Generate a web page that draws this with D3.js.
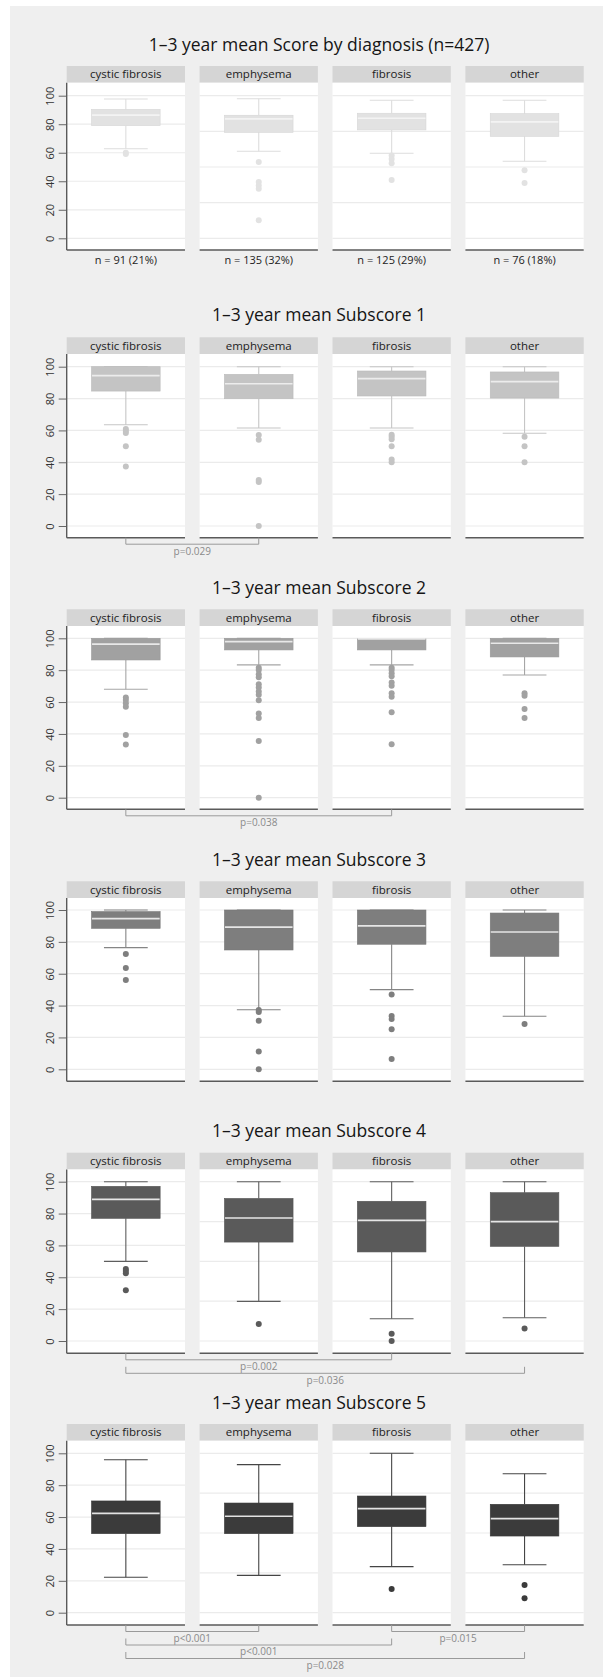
<!DOCTYPE html>
<html>
<head>
<meta charset="utf-8">
<script src="https://cdn.jsdelivr.net/npm/d3@7"></script>
<style>
  body { margin: 0; background: #ffffff; }
  text { font-family: "Open Sans", "Noto Sans", sans-serif; }
</style>
</head>
<body>
<svg id="chart" width="603" height="1680"></svg>
<script>
// Diagnosis groups shown as facets in every row
const categories = ["cystic fibrosis", "emphysema", "fibrosis", "other"];
const groupCounts = ["n = 91 (21%)", "n = 135 (32%)", "n = 125 (29%)", "n = 76 (18%)"];

const titles = [
  "1\u20133 year mean Score by diagnosis (n=427)",
  "1\u20133 year mean Subscore 1",
  "1\u20133 year mean Subscore 2",
  "1\u20133 year mean Subscore 3",
  "1\u20133 year mean Subscore 4",
  "1\u20133 year mean Subscore 5"
];

const yTicks = [0, 20, 40, 60, 80, 100];

// Box summaries per group: [lower whisker, Q1, median, Q3, upper whisker]
const scoreBoxes = [[62.8, 79.0, 86.4, 90.4, 97.7], [61.0, 74.3, 83.7, 86.3, 97.9], [59.6, 76.0, 84.2, 87.7, 96.8], [54.0, 71.5, 81.6, 87.4, 96.8]];
const sub1Boxes  = [[63.6, 84.7, 94.4, 100, 100], [61.5, 79.9, 89.3, 95.2, 100], [61.5, 81.6, 92.5, 97.3, 100], [58.2, 80.3, 90.6, 96.7, 100]];
const sub2Boxes  = [[68.0, 86.4, 96.4, 100, 100], [83.3, 92.7, 97.9, 100, 100], [83.3, 92.7, 99.6, 99.6, 99.6], [77.0, 88.3, 96.9, 100, 100]];
const sub3Boxes  = [[76.4, 88.5, 94.6, 99.0, 100], [37.4, 74.9, 89.3, 100, 100], [50.0, 78.5, 90.0, 100, 100], [33.3, 70.9, 86.2, 98.1, 100]];
const sub4Boxes  = [[50.0, 77.0, 88.9, 97.1, 100], [24.9, 62.1, 77.2, 89.5, 100], [14.0, 55.9, 75.7, 87.7, 100], [14.6, 59.4, 74.9, 93.1, 100]];
const sub5Boxes  = [[22.2, 49.6, 62.3, 70.1, 96.0], [23.4, 49.6, 60.5, 68.8, 92.9], [28.9, 54.0, 65.3, 73.2, 100], [30.1, 48.1, 59.0, 68.0, 87.2]];

// Outlying observations per group
const scoreOutliers = [[60, 59.2], [53.5, 39.5, 37, 34.8, 12.6], [58, 55.6, 52.6, 40.9], [47.7, 38.8]];
const sub1Outliers  = [[60.9, 59.6, 58.4, 50, 37.4], [57.1, 54.2, 28.9, 27.6, 0], [57.3, 56.1, 54.4, 50, 41.8, 40], [56.1, 50, 40]];
const sub2Outliers  = [[62.8, 61.3, 59.2, 57.1, 39.3, 33.3], [81.6, 80.1, 77.4, 75.5, 71.1, 69.2, 66.7, 64.6, 61.1, 52.9, 50, 35.6, 0], [81.6, 80.1, 78, 76.2, 72.2, 70.3, 65.5, 63.4, 53.6, 33.5], [65.5, 64, 55.6, 50]];
const sub3Outliers  = [[72.4, 63.6, 56.1], [37.2, 36, 30.5, 11.1, 0], [46.9, 33.5, 31.6, 25.1, 6.5], [28.5]];
const sub4Outliers  = [[45.2, 43.9, 42.5, 31.8], [10.7], [4.6, 0], [7.9]];
const sub5Outliers  = [[], [], [14.9], [17.4, 9]];

// Pairwise comparisons: [group a, group b, bracket level, label]
const sub1Tests = [[0, 1, 0, "p=0.029"]];
const sub2Tests = [[0, 2, 0, "p=0.038"]];
const sub4Tests = [[0, 2, 0, "p=0.002"], [0, 3, 1, "p=0.036"]];
const sub5Tests = [[0, 1, 0, "p<0.001"], [2, 3, 0, "p=0.015"], [0, 2, 1, "p<0.001"], [0, 3, 2, "p=0.028"]];

const boxSets = [scoreBoxes, sub1Boxes, sub2Boxes, sub3Boxes, sub4Boxes, sub5Boxes];
const outlierSets = [scoreOutliers, sub1Outliers, sub2Outliers, sub3Outliers, sub4Outliers, sub5Outliers];
const testSets = [[], sub1Tests, sub2Tests, [], sub4Tests, sub5Tests];
// Grid step used in the 2nd-4th facets of each row
const facetGridSteps = [25, 20, 20, 20, 25, 25];

// Row geometry
const rows = [
  { title: 45,     strip: 66,     y100: 95.7,   y0: 238.3,  base: 250 },
  { title: 315,    strip: 337.3,  y100: 366.7,  y0: 526,    base: 537.7 },
  { title: 587.3,  strip: 609.3,  y100: 638.3,  y0: 797.7,  base: 809.3 },
  { title: 859.3,  strip: 881.3,  y100: 910,    y0: 1069.3, base: 1081.3 },
  { title: 1130.7, strip: 1152.7, y100: 1181.7, y0: 1341,   base: 1353.3 },
  { title: 1402.7, strip: 1424,   y100: 1453.3, y0: 1612.7, base: 1625 }
];
const stripH = 16.7;
const boxFill  = ["#e2e2e2", "#c4c4c4", "#a1a1a1", "#7e7e7e", "#5a5a5a", "#3b3b3b"];
const lineCol  = ["#dddddd", "#c6c6c6", "#a6a6a6", "#858585", "#5e5e5e", "#454545"];
const medianCol = ["#f3f3f3", "#ececec", "#e8e8e8", "#e6e6e6", "#e6e6e6", "#e2e2e2"];

const svg = d3.select("#chart");
svg.append("rect").attr("x", 10).attr("y", 6).attr("width", 593).attr("height", 1671).attr("fill", "#efefef");

const fx = d3.scaleBand().domain(categories).range([66.7, 583.7]).paddingInner(0.11).paddingOuter(0);
const bw = fx.bandwidth();
const boxW = bw * 0.58;
const capW = bw * 0.37;

rows.forEach((r, ri) => {
  const g = svg.append("g");
  const y = d3.scaleLinear().domain([0, 100]).range([r.y0, r.y100]);
  const plotTop = r.strip + stripH;

  g.append("text")
    .attr("x", 319).attr("y", r.title)
    .attr("dy", "0.36em")
    .attr("text-anchor", "middle")
    .attr("font-size", 17.5)
    .attr("fill", "#151515")
    .text(titles[ri]);

  categories.forEach((cat, ci) => {
    const x0 = fx(cat);
    const cx = x0 + bw / 2;
    const fg = g.append("g");

    fg.append("rect").attr("x", x0).attr("y", r.strip).attr("width", bw).attr("height", stripH).attr("fill", "#d5d5d5");
    fg.append("text")
      .attr("x", cx).attr("y", r.strip + stripH / 2)
      .attr("dy", "0.35em").attr("text-anchor", "middle")
      .attr("font-size", 11.5).attr("fill", "#222")
      .text(cat);

    fg.append("rect").attr("x", x0).attr("y", plotTop).attr("width", bw).attr("height", r.base - plotTop).attr("fill", "#ffffff");

    const step = ci === 0 ? 20 : facetGridSteps[ri];
    const grid = d3.range(0, 100 + 0.01, step);
    fg.selectAll("line.grid").data(grid).join("line")
      .attr("class", "grid")
      .attr("x1", x0).attr("x2", x0 + bw)
      .attr("y1", d => y(d)).attr("y2", d => y(d))
      .attr("stroke", "#ebebeb").attr("stroke-width", 1.2);

    const [lo, q1, med, q3, hi] = boxSets[ri][ci];
    const col = lineCol[ri];
    fg.append("line").attr("x1", cx).attr("x2", cx).attr("y1", y(hi)).attr("y2", y(q3)).attr("stroke", col).attr("stroke-width", 1.1);
    fg.append("line").attr("x1", cx).attr("x2", cx).attr("y1", y(q1)).attr("y2", y(lo)).attr("stroke", col).attr("stroke-width", 1.1);
    fg.append("line").attr("x1", cx - capW / 2).attr("x2", cx + capW / 2).attr("y1", y(hi)).attr("y2", y(hi)).attr("stroke", col).attr("stroke-width", 1.1);
    fg.append("line").attr("x1", cx - capW / 2).attr("x2", cx + capW / 2).attr("y1", y(lo)).attr("y2", y(lo)).attr("stroke", col).attr("stroke-width", 1.1);

    fg.append("rect")
      .attr("x", cx - boxW / 2).attr("y", y(q3))
      .attr("width", boxW).attr("height", Math.max(0.5, y(q1) - y(q3)))
      .attr("fill", boxFill[ri])
      .attr("stroke", d3.color(boxFill[ri]).darker(0.15)).attr("stroke-width", 0.6);
    fg.append("line")
      .attr("x1", cx - boxW / 2 + 0.5).attr("x2", cx + boxW / 2 - 0.5)
      .attr("y1", y(med)).attr("y2", y(med))
      .attr("stroke", medianCol[ri]).attr("stroke-width", 1.7);

    fg.selectAll("circle").data(outlierSets[ri][ci]).join("circle")
      .attr("cx", cx).attr("cy", d => y(d)).attr("r", 3)
      .attr("fill", boxFill[ri]);

    fg.append("line").attr("x1", x0).attr("x2", x0 + bw).attr("y1", r.base).attr("y2", r.base)
      .attr("stroke", "#5a5a5a").attr("stroke-width", 1.4);

    if (ri === 0) {
      fg.append("text")
        .attr("x", cx).attr("y", r.base + 10)
        .attr("dy", "0.35em").attr("text-anchor", "middle")
        .attr("font-size", 11).attr("fill", "#222")
        .text(groupCounts[ci]);
    }
  });

  // y axis on the first facet
  const axisX = fx(categories[0]);
  const ax = g.append("g").attr("transform", `translate(${axisX},0)`)
    .call(d3.axisLeft(y).tickValues(yTicks).tickSize(8).tickPadding(4).tickFormat(d3.format("d")));
  ax.select(".domain").remove();
  ax.selectAll(".tick line").attr("stroke", "#666");
  ax.selectAll(".tick text")
    .attr("transform", "rotate(-90)")
    .attr("x", 0).attr("y", -12.5).attr("dy", 0)
    .attr("text-anchor", "middle")
    .attr("font-size", 11).attr("fill", "#333")
    .style("font-family", "'Open Sans', sans-serif");
  g.append("line").attr("x1", axisX).attr("x2", axisX).attr("y1", plotTop).attr("y2", r.base)
    .attr("stroke", "#5a5a5a").attr("stroke-width", 1.4);

  // significance brackets below the facets
  testSets[ri].forEach(([a, b, lvl, lab]) => {
    const xa = fx(categories[a]) + bw / 2;
    const xb = fx(categories[b]) + bw / 2;
    const hy = r.base + 6.5 + lvl * 13.5;
    const top = lvl === 0 ? r.base : hy - 6.5;
    g.append("path")
      .attr("d", `M${xa},${top}V${hy}H${xb}V${top}`)
      .attr("fill", "none").attr("stroke", "#9a9a9a").attr("stroke-width", 1);
    g.append("text")
      .attr("x", (xa + xb) / 2).attr("y", hy + 6.8)
      .attr("dy", "0.35em").attr("text-anchor", "middle")
      .attr("font-size", 10).attr("fill", "#8a8a8a")
      .text(lab);
  });
});
</script>
</body>
</html>
